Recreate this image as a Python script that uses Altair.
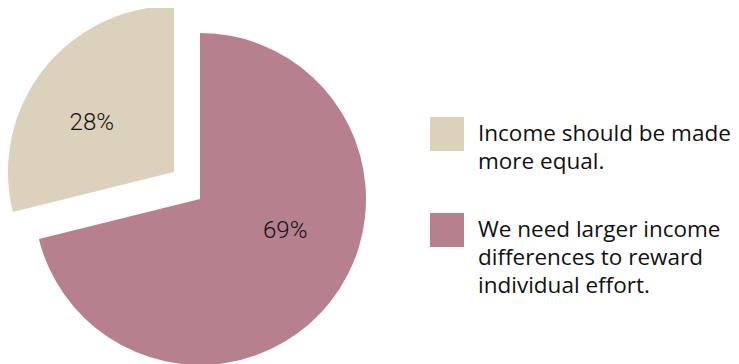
import altair as alt
import pandas as pd

categories = [
    "We need larger income differences to reward individual effort.",
    "Income should be made more equal.",
]
values = [69, 28]
pct_labels = ["69%", "28%"]
legend_lines = [
    ["We need larger income", "differences to reward", "individual effort."],
    ["Income should be made", "more equal."],
]
colors = ["#b6808f", "#dcd2bb"]
stack_order = [0, 1]
legend_rank = [1, 0]

df = pd.DataFrame({
    "category": categories,
    "value": values,
    "pct": pct_labels,
    "order": stack_order,
    "legend_text": ["\n".join(l) for l in legend_lines],
    "legend_rank": legend_rank,
})

color_scale = alt.Scale(domain=categories, range=colors)
theta = alt.Theta("value:Q", stack=True)
order = alt.Order("order:Q")
is_beige = alt.datum.category == categories[1]
show_main = alt.condition(is_beige, alt.value(0), alt.value(1))
show_beige = alt.condition(is_beige, alt.value(1), alt.value(0))

base = alt.Chart(df)
pct_font = dict(font="Roboto", fontSize=24, fontWeight=300, color="#111111")

main_arc = base.mark_arc(x=192, y=191, outerRadius=166, clip=True).encode(
    theta=theta, order=order,
    color=alt.Color("category:N", scale=color_scale, legend=None),
    opacity=show_main,
)
beige_arc = base.mark_arc(x=166, y=164, outerRadius=166, clip=True).encode(
    theta=theta, order=order,
    color=alt.Color("category:N", scale=color_scale, legend=None),
    opacity=show_beige,
)
main_text = base.mark_text(x=192, y=191, radius=93, dx=12, dy=-25,
                           align="center", baseline="middle", **pct_font).encode(
    theta=theta, order=order, text="pct:N", opacity=show_main,
)
beige_text = base.mark_text(x=166, y=164, radius=93, dx=-9, dy=8,
                            align="center", baseline="middle", **pct_font).encode(
    theta=theta, order=order, text="pct:N", opacity=show_beige,
)

pie = alt.layer(main_arc, beige_arc, main_text, beige_text).properties(width=422, height=356)

leg_base = alt.Chart(df).encode(
    y=alt.Y("category:N", sort=[categories[1], categories[0]],
            scale=alt.Scale(type="point", range=[126, 222], padding=0), axis=None)
)
squares = leg_base.mark_square(size=1156, opacity=1).encode(
    x=alt.value(17),
    color=alt.Color("category:N", scale=color_scale, legend=None),
)
texts = leg_base.mark_text(align="left", baseline="middle", lineBreak="\n", lineHeight=28,
                           font="Open Sans", fontSize=22.5, color="#111111").encode(
    x=alt.value(48), text="legend_text:N",
)
legend = alt.layer(squares, texts).properties(width=301, height=348)

chart = alt.hconcat(pie, legend, spacing=0).properties(padding=0).configure_view(stroke=None)

chart.save("out.html", embed_options={"renderer": "svg", "actions": False})
